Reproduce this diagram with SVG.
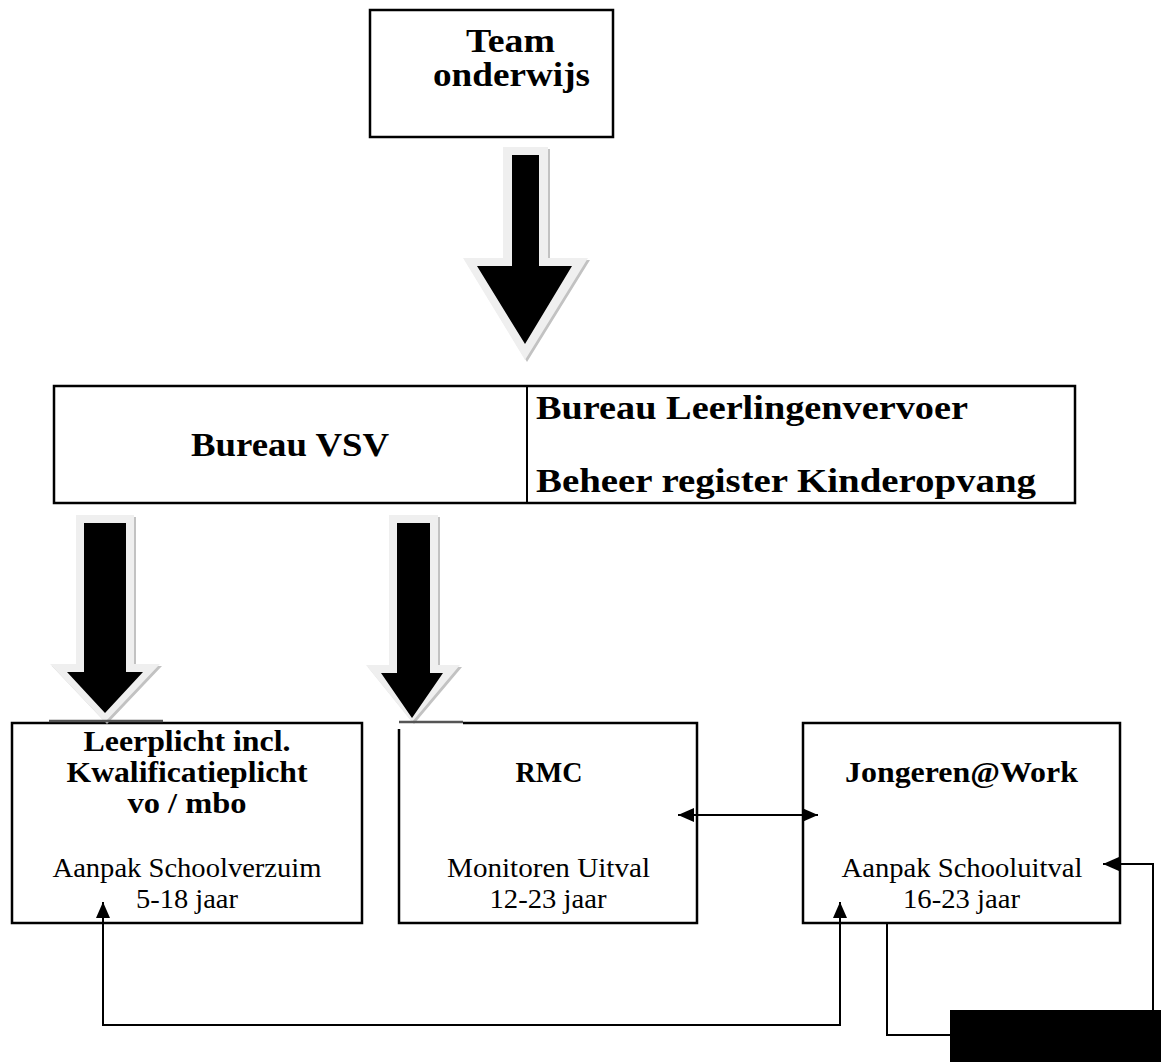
<svg xmlns="http://www.w3.org/2000/svg" width="1161" height="1062" viewBox="0 0 1161 1062">
<defs>
<style>
.box{fill:#fff;stroke:#000;stroke-width:2.5}
.t{font-family:"Liberation Serif","Times New Roman",serif;fill:#000}
.b{font-weight:bold}
.m{text-anchor:middle}
.c{stroke:#000;stroke-width:2;fill:none}
.sh{fill:#c2c2c2}
.ol{fill:#efefef}
.bk{fill:#000}
.gl{stroke:#555;stroke-width:2.5;fill:none}
</style>
<marker id="ah" markerUnits="userSpaceOnUse" viewBox="0 0 16 14" refX="16" refY="7" markerWidth="16" markerHeight="14" orient="auto-start-reverse">
<path d="M0,0 L16,7 L0,14 Z" fill="#000"/>
</marker>
</defs>
<rect width="1161" height="1062" fill="#fff"/>

<g id="node-team">
<rect class="box" x="370" y="10" width="243" height="127" stroke-width="3"/>
<text class="t b m" x="510.5" y="52" font-size="34" textLength="89" lengthAdjust="spacingAndGlyphs">Team</text>
<text class="t b m" x="511.5" y="86" font-size="34" textLength="157" lengthAdjust="spacingAndGlyphs">onderwijs</text>
</g>

<g id="node-bureau">
<rect class="box" x="54" y="386" width="1021" height="117"/>
<path class="c" d="M527,386 V503" stroke-width="2.5"/>
<text class="t b m" x="290" y="456" font-size="33" textLength="198" lengthAdjust="spacingAndGlyphs">Bureau VSV</text>
<text class="t b" x="536" y="419" font-size="33" textLength="432" lengthAdjust="spacingAndGlyphs">Bureau Leerlingenvervoer</text>
<text class="t b" x="536" y="492" font-size="33" textLength="500" lengthAdjust="spacingAndGlyphs">Beheer register Kinderopvang</text>
</g>

<g id="node-leerplicht">
<rect class="box" x="12" y="723" width="350" height="200"/>
<text class="t b m" x="187" y="751" font-size="30" textLength="207" lengthAdjust="spacingAndGlyphs">Leerplicht incl.</text>
<text class="t b m" x="187" y="782" font-size="30" textLength="241" lengthAdjust="spacingAndGlyphs">Kwalificatieplicht</text>
<text class="t b m" x="187" y="813" font-size="30" textLength="119" lengthAdjust="spacingAndGlyphs">vo / mbo</text>
<text class="t m" x="187" y="877" font-size="28" textLength="269" lengthAdjust="spacingAndGlyphs">Aanpak Schoolverzuim</text>
<text class="t m" x="187" y="908" font-size="28" textLength="102" lengthAdjust="spacingAndGlyphs">5-18 jaar</text>
</g>

<g id="node-rmc">
<path class="box" d="M399,729 V923 H697 V723 H463"/>
<text class="t b m" x="549" y="782" font-size="30" textLength="67" lengthAdjust="spacingAndGlyphs">RMC</text>
<text class="t m" x="548.5" y="877" font-size="28" textLength="203" lengthAdjust="spacingAndGlyphs">Monitoren Uitval</text>
<text class="t m" x="548" y="908" font-size="28" textLength="117" lengthAdjust="spacingAndGlyphs">12-23 jaar</text>
</g>

<g id="node-jongeren">
<rect class="box" x="803" y="723" width="317" height="200"/>
<text class="t b m" x="961.5" y="782" font-size="30" textLength="233" lengthAdjust="spacingAndGlyphs">Jongeren@Work</text>
<text class="t m" x="962" y="877" font-size="28" textLength="241" lengthAdjust="spacingAndGlyphs">Aanpak Schooluitval</text>
<text class="t m" x="961.5" y="908" font-size="28" textLength="117" lengthAdjust="spacingAndGlyphs">16-23 jaar</text>
</g>

<g id="node-black">
<rect x="950" y="1010" width="211" height="52" fill="#000"/>
</g>

<g id="connectors">
<g id="arrow-top">
<path class="sh" d="M505,149 H550 V260 H590 L527,362 L465,260 H505 Z"/>
<path class="ol" d="M503,147 H548 V258 H588 L525,360 L463,258 H503 Z"/>
<path class="bk" d="M512,155 H539 V266 H572 L525,344 L477,266 H512 Z"/>
</g>
<g id="arrow-left">
<path class="sh" d="M78,517 H136 V666 H162 L107,724 L52,666 H78 Z"/>
<path class="ol" d="M76,515 H134 V664 H160 L105,722 L50,664 H76 Z"/>
<path class="bk" d="M84,523 H126 V672 H143 L105,713 L67,672 H84 Z"/>
<path class="gl" d="M49,721 H163"/>
</g>
<g id="arrow-mid">
<path class="sh" d="M391,517 H440 V667 H462 L414,724 L368,667 H391 Z"/>
<path class="ol" d="M389,515 H438 V665 H460 L412,722 L366,665 H389 Z"/>
<path class="bk" d="M397,523 H430 V673 H443 L412,718 L381,673 H397 Z"/>
<path class="gl" d="M399,722 H463"/>
</g>
<path class="c" d="M678,815 H818" marker-start="url(#ah)" marker-end="url(#ah)"/>
<path class="c" d="M103,902 V1025 H840 V902" marker-start="url(#ah)" marker-end="url(#ah)"/>
<path class="c" d="M887,923 V1035 H950"/>
<path class="c" d="M1153,1010 V864 H1103" marker-end="url(#ah)"/>
</g>
</svg>
